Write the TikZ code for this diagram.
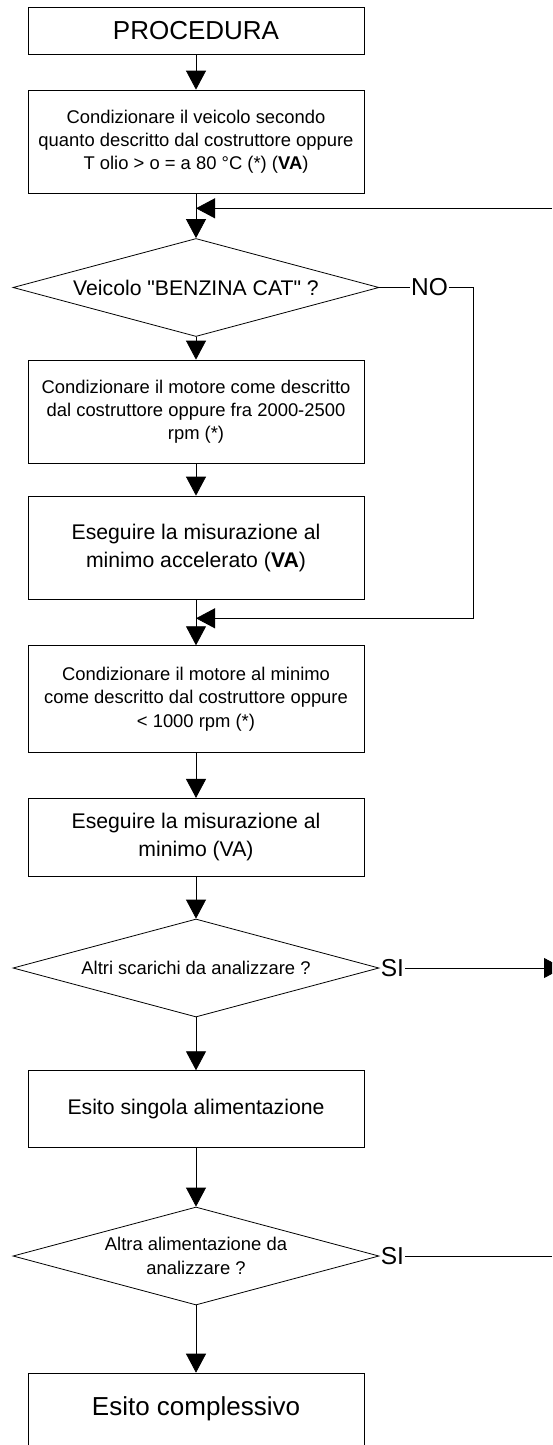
\documentclass[tikz,border=0pt]{standalone}
\usepackage{fontspec}
\setmainfont{Liberation Sans}[Ligatures=TeXOff]
\usetikzlibrary{arrows.meta}
\usetikzlibrary{shapes.geometric}

\begin{document}
\begin{tikzpicture}[x=1pt,y=-1pt,line width=0.8pt,
box/.style={draw, rectangle, minimum width=336pt, inner sep=0pt, align=center},
choice/.style={draw, diamond, aspect=3.73, minimum width=366pt, minimum height=98pt, inner sep=0pt, align=center},
answer/.style={inner sep=1pt, font=\fontsize{24.5}{28}\selectfont},
flow/.style={-{Triangle[width=20pt,length=19pt]}},
small/.style={font=\fontsize{18.4}{23.3}\selectfont},
big/.style={font=\fontsize{21.2}{27.7}\selectfont},
title/.style={font=\fontsize{26}{30}\selectfont}]
\useasboundingbox (0,0) rectangle (552,1445);
\clip (0,0) rectangle (552,1445);
\coordinate (loopin) at (552,208.3);
\coordinate (j1) at (196,208.3);
\coordinate (nocorner) at (473,618.3);
\coordinate (j2) at (196,618.3);
\coordinate (siout) at (563,968);
\coordinate (siend) at (552,1256);
% draws boxes
\node[box, title, minimum height=47pt] (proc) at (196,30.5) {PROCEDURA};
\node[box, small, minimum height=103.3pt] (cond1) at (196,141.7) {Condizionare il veicolo secondo\\quanto descritto dal costruttore oppure\\T olio > o = a 80 °C (*) (\textbf{VA})};
\node[choice, big] (dec1) at (196,287.5) {Veicolo "BENZINA CAT" ?};
\node[box, small, minimum height=103.3pt] (cond2) at (196,411.7) {Condizionare il motore come descritto\\dal costruttore oppure fra 2000-2500\\rpm (*)};
\node[box, big, minimum height=103.3pt] (meas1) at (196,547.7) {Eseguire la misurazione al\\minimo accelerato (\textbf{VA})};
\node[box, small, minimum height=107pt] (cond3) at (196,699.2) {Condizionare il motore al minimo\\come descritto dal costruttore oppure\\< 1000 rpm (*)};
\node[box, big, minimum height=77.7pt] (meas2) at (196,837.2) {Eseguire la misurazione al\\minimo (VA)};
\node[choice, small] (dec2) at (196,968) {Altri scarichi da analizzare ?};
\node[box, big, minimum height=77pt] (res1) at (196,1109.2) {Esito singola alimentazione};
\node[choice, font=\fontsize{18.4}{24}\selectfont] (dec3) at (196,1256) {Altra alimentazione da\\analizzare ?};
\node[box, title, minimum height=72pt, anchor=north] (res2) at (196,1372.7) {Esito complessivo};
% labels answers
\node[answer] (no) at (429.5,287.5) {NO};
\node[answer, anchor=west] (si1) at (dec2.east) {SI};
\node[answer, anchor=west] (si2) at (dec3.east) {SI};
% draws edges
\draw[flow] (proc) -- (cond1);
\draw[flow] (cond1) -- (dec1);
\draw[flow] (loopin) -- (j1);
\draw[flow] (dec1) -- (cond2);
\draw[flow] (cond2) -- (meas1);
\draw (dec1.east) -- (no);
\draw[flow] (no.east) -| (nocorner) -- (j2);
\draw[flow] (meas1) -- (cond3);
\draw[flow] (cond3) -- (meas2);
\draw[flow] (meas2) -- (dec2);
\draw[flow] (si1) -- (siout);
\draw[flow] (dec2) -- (res1);
\draw[flow] (res1) -- (dec3);
\draw (si2) -- (siend);
\draw[flow] (dec3) -- (res2);
\end{tikzpicture}
\end{document}
